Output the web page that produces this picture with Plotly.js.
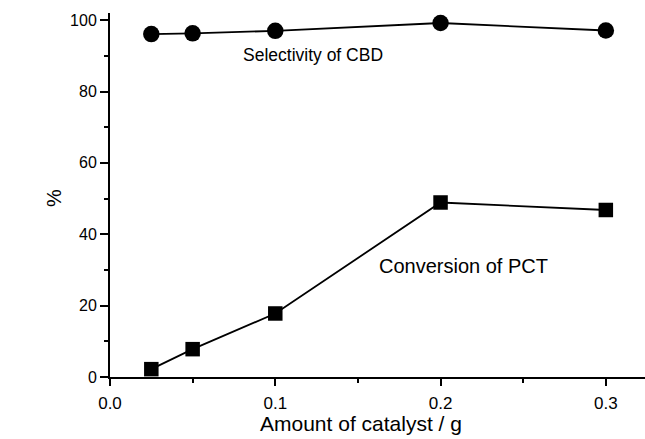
<!DOCTYPE html>
<html>
<head>
<meta charset="utf-8">
<script src="https://cdn.plot.ly/plotly-3.0.1.min.js"></script>
<style>html,body{margin:0;padding:0;background:#fff;}#chart{width:645px;height:439px;}</style>
</head>
<body>
<div id="chart"></div>
<script>
const catalystAmount = [0.025, 0.05, 0.1, 0.2, 0.3];
const selectivityCBD = [96.1, 96.3, 97.0, 99.2, 97.1];
const conversionPCT = [2.2, 7.8, 17.8, 48.9, 46.8];
const xTickVals = [0, 0.1, 0.2, 0.3];
const xTickText = ['0.0', '0.1', '0.2', '0.3'];
const yTickVals = [0, 20, 40, 60, 80, 100];

const font = 'Liberation Sans, Arial, sans-serif';

const traces = [
  {
    x: catalystAmount, y: selectivityCBD, mode: 'lines+markers', type: 'scatter',
    line: {color: '#000', width: 1.8},
    marker: {symbol: 'circle', size: 16.5, color: '#000'},
    name: 'Selectivity of CBD', cliponaxis: false
  },
  {
    x: catalystAmount, y: conversionPCT, mode: 'lines+markers', type: 'scatter',
    line: {color: '#000', width: 1.8},
    marker: {symbol: 'square', size: 14.5, color: '#000'},
    name: 'Conversion of PCT', cliponaxis: false
  }
];

const layout = {
  width: 645, height: 439,
  margin: {l: 110, r: 0, t: 13, b: 62},
  paper_bgcolor: '#fff', plot_bgcolor: '#fff',
  showlegend: false,
  font: {family: font, size: 16, color: '#000'},
  xaxis: {
    range: [0, 0.3237],
    tickvals: xTickVals, ticktext: xTickText,
    showgrid: false, zeroline: false,
    showline: true, linecolor: '#000', linewidth: 2,
    ticks: 'outside', ticklen: 7, tickwidth: 2, tickcolor: '#000',
    ticklabelstandoff: 3,
    minor: {ticks: 'outside', ticklen: 4, tickwidth: 2, tickcolor: '#000', dtick: 0.05, tick0: 0, showgrid: false},
    tickfont: {family: font, size: 17, color: '#000'}
  },
  yaxis: {
    range: [0, 102],
    tickvals: yTickVals,
    showgrid: false, zeroline: false,
    showline: true, linecolor: '#000', linewidth: 2,
    ticks: 'outside', ticklen: 8, tickwidth: 2, tickcolor: '#000',
    minor: {ticks: 'outside', ticklen: 4, tickwidth: 2, tickcolor: '#000', dtick: 10, tick0: 0, showgrid: false},
    tickfont: {family: font, size: 16, color: '#000'}
  },
  annotations: [
    {x: 0.1228, y: 90.2, xref: 'x', yref: 'y', text: 'Selectivity of CBD', showarrow: false,
     font: {family: font, size: 17.5, color: '#000'}},
    {x: 0.214, y: 31.1, xref: 'x', yref: 'y', text: 'Conversion of PCT', showarrow: false,
     font: {family: font, size: 20, color: '#000'}},
    {x: 0.470, y: -0.129, xref: 'paper', yref: 'paper', xanchor: 'center', yanchor: 'middle',
     text: 'Amount of catalyst / g', showarrow: false,
     font: {family: font, size: 21, color: '#000'}},
    {x: -0.1045, y: 0.492, xref: 'paper', yref: 'paper', xanchor: 'center', yanchor: 'middle',
     text: '%', textangle: -90, showarrow: false,
     font: {family: font, size: 20, color: '#000'}}
  ]
};

Plotly.newPlot('chart', traces, layout, {displayModeBar: false, staticPlot: true});
</script>
</body>
</html>
